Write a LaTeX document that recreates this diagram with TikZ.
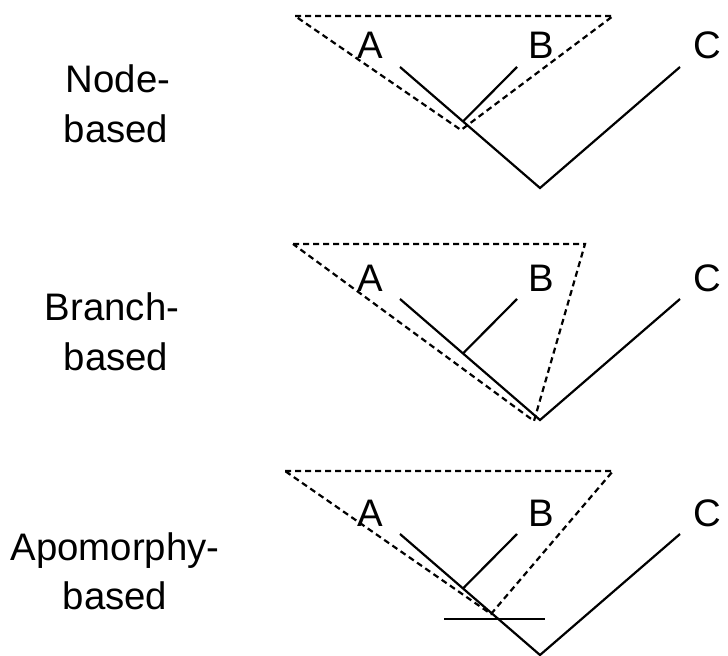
\documentclass[tikz,border=0pt]{standalone}
\usepackage{fontspec}
\setmainfont{Liberation Sans}
\usetikzlibrary{calc}
\begin{document}
\begin{tikzpicture}[x=1bp,y=-1bp,
  tree/.style={line width=2.2bp},
  clade/.style={line width=2.2bp, dash pattern=on 6bp off 4bp, line join=miter},
  txt/.style={font=\fontsize{38.5}{46}\selectfont, anchor=base, inner sep=0pt}]
\useasboundingbox (0,0) rectangle (728,656);

% ---------- Node-based ----------
\node[txt] (L1a) at (118,93) {Node-};
\node[txt] (L1b) at (116,143) {based};
\coordinate (a1) at (400,67);
\coordinate (b1) at (517,67);
\coordinate (c1) at (680,67);
\coordinate (r1) at (540,188);
\coordinate (n1) at ($(a1)!0.45!(r1)$);
\draw[clade] (295,16) coordinate (t1l) -- (613,16) coordinate (t1r) -- (461,130) coordinate (t1a) -- cycle;
\draw[tree] (a1) -- (r1) -- (c1);
\draw[tree] (b1) -- (n1);
\node[txt] (A1) at (370,59) {A};
\node[txt] (B1) at (541,59) {B};
\node[txt] (C1) at (707,59) {C};

% ---------- Branch-based ----------
\node[txt] (L2a) at (112,320) {Branch-};
\node[txt] (L2b) at (116,370) {based};
\coordinate (a2) at (400,299);
\coordinate (b2) at (517,299);
\coordinate (c2) at (680,299);
\coordinate (r2) at (540,420);
\coordinate (n2) at ($(a2)!0.45!(r2)$);
\draw[clade] (293,244) coordinate (t2l) -- (585,244) coordinate (t2r) -- (534,421) coordinate (t2a) -- cycle;
\draw[tree] (a2) -- (r2) -- (c2);
\draw[tree] (b2) -- (n2);
\node[txt] (A2) at (370,291) {A};
\node[txt] (B2) at (541,291) {B};
\node[txt] (C2) at (707,291) {C};

% ---------- Apomorphy-based ----------
\node[txt] (L3a) at (115,560) {Apomorphy-};
\node[txt] (L3b) at (115,609) {based};
\coordinate (a3) at (400,534);
\coordinate (b3) at (517,534);
\coordinate (c3) at (680,534);
\coordinate (r3) at (540,655);
\coordinate (n3) at ($(a3)!0.45!(r3)$);
\coordinate (m3l) at (444,619);
\coordinate (m3r) at (545,619);
\draw[clade] (285,471) coordinate (t3l) -- (613,471) coordinate (t3r) -- (491,614) coordinate (t3a) -- cycle;
\draw[tree] (a3) -- (r3) -- (c3);
\draw[tree] (b3) -- (n3);
\draw[tree] (m3l) -- (m3r);
\node[txt] (A3) at (370,526) {A};
\node[txt] (B3) at (541,526) {B};
\node[txt] (C3) at (707,526) {C};
\end{tikzpicture}
\end{document}
